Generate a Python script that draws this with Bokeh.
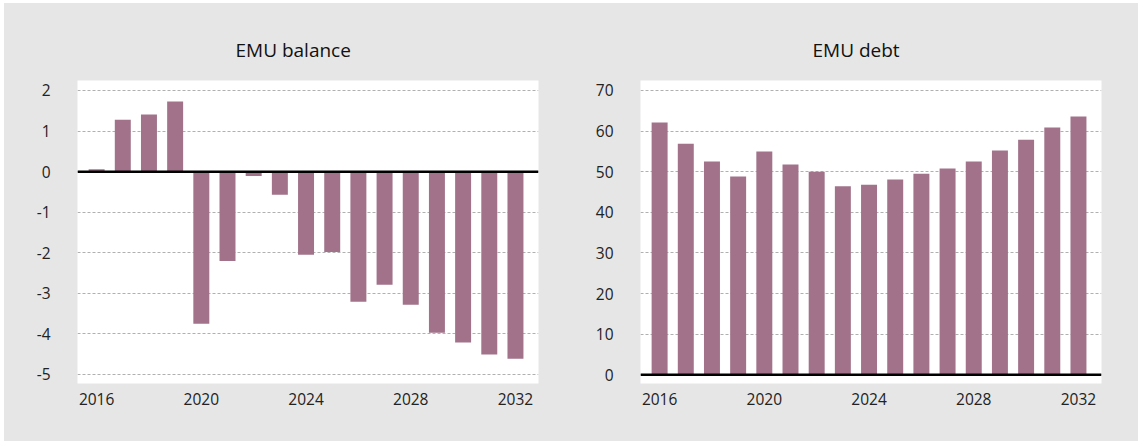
from bokeh.plotting import figure
from bokeh.layouts import row
from bokeh.models import FixedTicker, Span, Title, Range1d
from bokeh.embed import file_html
from bokeh.resources import INLINE

years = list(range(2016, 2033))
balance = [0.06, 1.28, 1.41, 1.73, -3.75, -2.20, -0.11, -0.57, -2.05, -1.98,
           -3.21, -2.79, -3.28, -3.97, -4.21, -4.51, -4.61]
debt = [62.1, 56.9, 52.5, 48.8, 55.0, 51.8, 50.0, 46.4, 46.8, 48.1,
        49.5, 50.8, 52.5, 55.2, 57.9, 60.9, 63.6]
x_ticks = [2016, 2020, 2024, 2028, 2032]
balance_ticks = [-5, -4, -3, -2, -1, 0, 1, 2]
debt_ticks = [0, 10, 20, 30, 40, 50, 60, 70]
titles = ["EMU balance", "EMU debt"]

BG = "#e6e6e6"
BAR = "#a1728a"
FONT = "Open Sans"


def make(values, yticks, ylo, yhi, title, width, left, right, title_offset):
    p = figure(width=width, height=438, output_backend="svg", toolbar_location=None,
               x_range=Range1d(2015.27, 2032.88), y_range=Range1d(ylo, yhi),
               min_border_left=left, min_border_right=right,
               min_border_top=77, min_border_bottom=58,
               background_fill_color="white", border_fill_color=BG,
               outline_line_color=None)
    p.title = Title(text=title, align="left", offset=title_offset,
                    text_font=FONT, text_font_size="19px", text_font_style="normal",
                    text_color="#111111", standoff=36)
    p.vbar(x=years, top=values, bottom=0, width=0.61, color=BAR, line_color=None)
    p.add_layout(Span(location=0, dimension="width", line_color="black", line_width=2.5))
    p.xaxis.ticker = FixedTicker(ticks=x_ticks)
    p.yaxis.ticker = FixedTicker(ticks=yticks)
    p.yaxis.major_label_overrides = {t: str(t) for t in yticks}
    for ax in (p.xaxis, p.yaxis):
        ax.axis_line_color = None
        ax.major_tick_line_color = None
        ax.minor_tick_line_color = None
        ax.major_tick_out = 0
        ax.major_tick_in = 0
        ax.major_label_text_font = FONT
        ax.major_label_text_font_size = "15.5px"
        ax.major_label_text_color = "#222222"
    p.yaxis.major_label_standoff = 27
    p.xaxis.major_label_standoff = 9
    p.xgrid.grid_line_color = None
    p.ygrid.grid_line_color = "#b0b0b0"
    p.ygrid.grid_line_dash = "3 2"
    p.ygrid.grid_line_width = 1
    return p


p1 = make(balance, balance_ticks, -5.222, 2.246, titles[0], 586, 73, 52, 158)
p2 = make(debt, debt_ticks, -2.14, 72.46, titles[1], 548, 50, 37, 172)
layout = row(p1, p2, spacing=0, margin=(3, 0, 0, 4), styles={"background-color": BG})

open("out.html", "w").write(file_html(layout, INLINE))
